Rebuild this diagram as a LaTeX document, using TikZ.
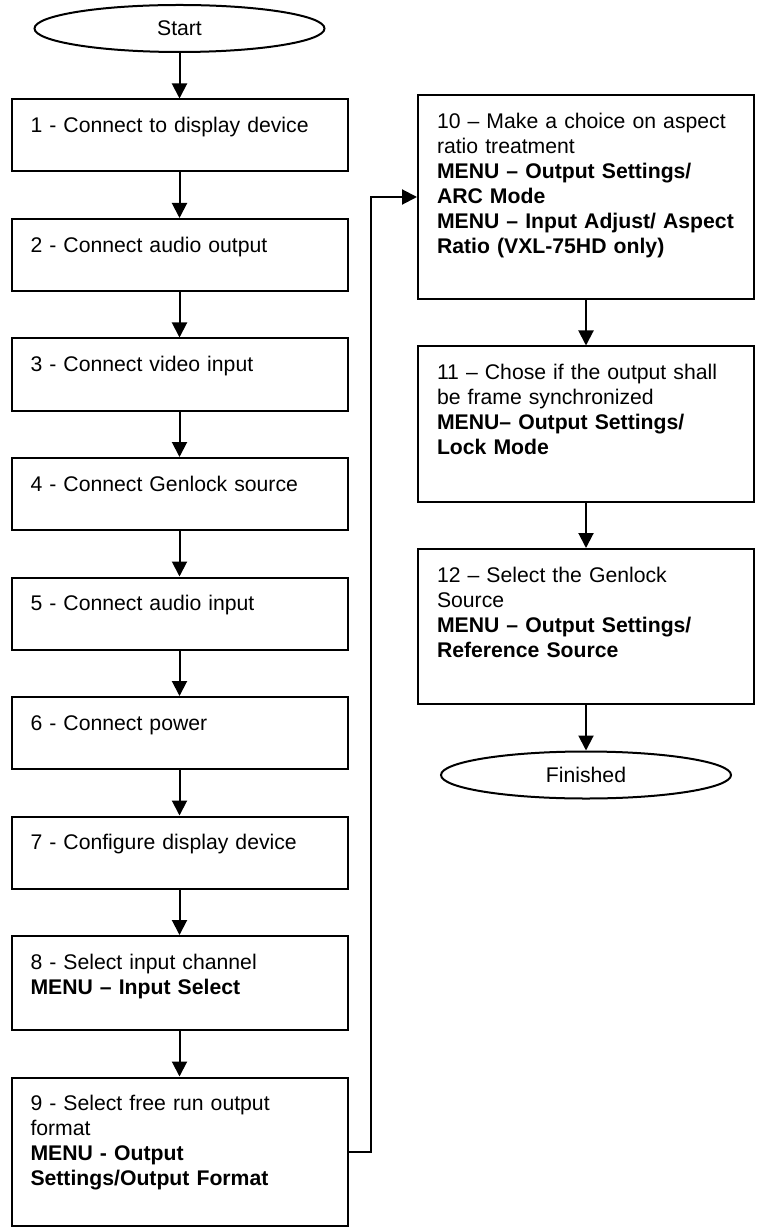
\documentclass[tikz,border=0pt]{standalone}
\usepackage{fontspec}
\setmainfont{Liberation Sans}
\usepackage{tikz}
\usetikzlibrary{positioning,shapes.geometric,arrows.meta}
\tikzset{
  terminal/.style={draw, ellipse, line width=1pt, minimum width=145pt, minimum height=23.5pt, inner sep=0pt},
  stepbox/.style={draw, line width=1pt, align=left, text width=149pt, inner xsep=9.5pt, inner ysep=4pt, text height=12.6pt, text depth=#1},
  stepbox/.default=15.4pt,
  arrow/.style={-{Triangle[length=7.5pt,width=7.5pt]}, line width=1pt}
}
\begin{document}
\begin{tikzpicture}[font=\fontsize{10.6pt}{12.5pt}\selectfont, node distance=22.75pt]
  \useasboundingbox (0,0) rectangle (379pt,-614.5pt);

  % left column
  \node[terminal] (start) at (89.75pt,-14.25pt) {Start};
  \node[stepbox, below=of start] (s1) {1 - Connect to display device};
  \node[stepbox, below=of s1] (s2) {2 - Connect audio output};
  \node[stepbox, below=of s2] (s3) {3 - Connect video input};
  \node[stepbox, below=of s3] (s4) {4 - Connect Genlock source};
  \node[stepbox, below=of s4] (s5) {5 - Connect audio input};
  \node[stepbox, below=of s5] (s6) {6 - Connect power};
  \node[stepbox, below=of s6] (s7) {7 - Configure display device};
  \node[stepbox=26.4pt, below=of s7] (s8) {8 - Select input channel\\\textbf{MENU – Input Select}};
  \node[stepbox=53.4pt, below=of s8] (s9) {9 - Select free run output\\format\\\textbf{MENU - Output}\\\textbf{Settings/Output Format}};

  % right column
  \node[stepbox=81.4pt, anchor=north west] (s10) at ([xshift=34.25pt,yshift=2.25pt]s1.north east) {10 – Make a choice on aspect\\ratio treatment\\\textbf{MENU – Output Settings/}\\\textbf{ARC Mode}\\\textbf{MENU – Input Adjust/ Aspect}\\\textbf{Ratio (VXL-75HD only)}};
  \node[stepbox=56.9pt, below=of s10] (s11) {11 – Chose if the output shall\\be frame synchronized\\\textbf{MENU– Output Settings/}\\\textbf{Lock Mode}};
  \node[stepbox=56.9pt, below=of s11] (s12) {12 – Select the Genlock\\Source\\\textbf{MENU – Output Settings/}\\\textbf{Reference Source}};
  \node[terminal, below=of s12] (finish) {Finished};

  \draw[arrow] (start) -- (s1);
  \draw[arrow] (s1) -- (s2);
  \draw[arrow] (s2) -- (s3);
  \draw[arrow] (s3) -- (s4);
  \draw[arrow] (s4) -- (s5);
  \draw[arrow] (s5) -- (s6);
  \draw[arrow] (s6) -- (s7);
  \draw[arrow] (s7) -- (s8);
  \draw[arrow] (s8) -- (s9);
  \draw[arrow] (s9.east) -- ++(11pt,0) |- (s10.west);
  \draw[arrow] (s10) -- (s11);
  \draw[arrow] (s11) -- (s12);
  \draw[arrow] (s12) -- (finish);
\end{tikzpicture}
\end{document}
